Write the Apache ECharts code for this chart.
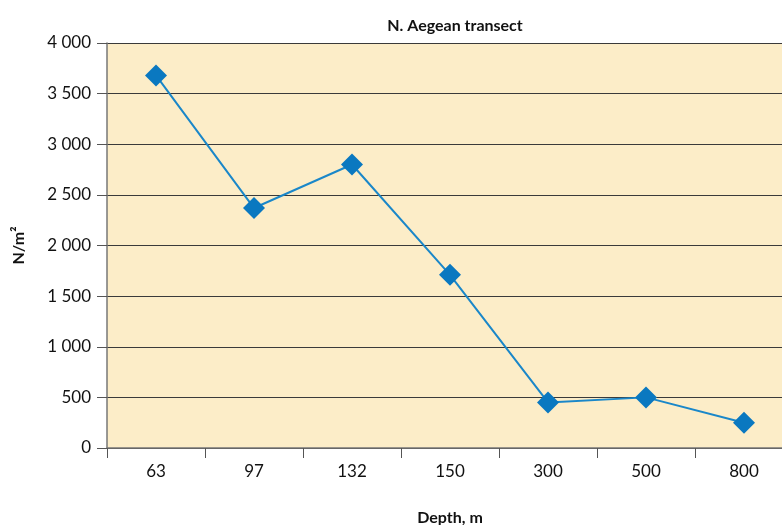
<!DOCTYPE html>
<html><head><meta charset="utf-8">
<script src="https://cdn.jsdelivr.net/npm/echarts@6/dist/echarts.min.js"></script>
<style>html,body{margin:0;padding:0;background:#fff}#c{width:782px;height:525px}</style>
</head><body><div id="c"></div>
<script>
const categories = ['63','97','132','150','300','500','800'];
const values = [3680, 2370, 2800, 1710, 450, 500, 250];
const titleText = 'N. Aegean transect';
const xName = 'Depth, m';
const yName = 'N/m²';

const chart = echarts.init(document.getElementById('c'));
const fmt = v => String(v).replace(/\B(?=(\d{3})+(?!\d))/g, ' ');
chart.setOption({
  animation: false,
  title: {text: titleText, left: 450, top: 13, textAlign: 'center',
    textStyle: {fontFamily: 'Lato', fontWeight: 'bold', fontSize: 16, color: '#111'}},
  grid: {left: 107, right: -11, top: 43, bottom: 77, show: true, backgroundColor: '#FCEDC8', borderWidth: 0,
    containLabel: false, outerBoundsMode: 'none'},
  xAxis: {type: 'category', data: categories, boundaryGap: true,
    name: xName, nameLocation: 'middle', nameGap: 62,
    nameTextStyle: {fontFamily: 'Lato', fontWeight: 'bold', fontSize: 16, color: '#111'},
    axisLine: {lineStyle: {color: '#777', width: 1.5}},
    axisTick: {show: true, length: 10, lineStyle: {color: '#555'}},
    axisLabel: {fontFamily: 'Lato', fontSize: 17, color: '#111', margin: 15}},
  yAxis: {type: 'value', min: 0, max: 4000, interval: 500,
    name: yName, nameLocation: 'middle', nameGap: 80, nameRotate: 90,
    nameTextStyle: {fontFamily: 'Lato', fontWeight: 'bold', fontSize: 16, color: '#111'},
    axisLine: {show: true, lineStyle: {color: '#777', width: 1.5}},
    axisTick: {show: true, length: 10, lineStyle: {color: '#555'}},
    splitLine: {lineStyle: {color: '#3a3a3a', width: 1}},
    axisLabel: {fontFamily: 'Lato', fontSize: 17, color: '#111', margin: 16, formatter: fmt}},
  series: [{type: 'line', data: values, symbol: 'diamond', symbolSize: 22,
    lineStyle: {color: '#1A87C9', width: 2}, itemStyle: {color: '#0A78C0'}}]
});
</script></body></html>
